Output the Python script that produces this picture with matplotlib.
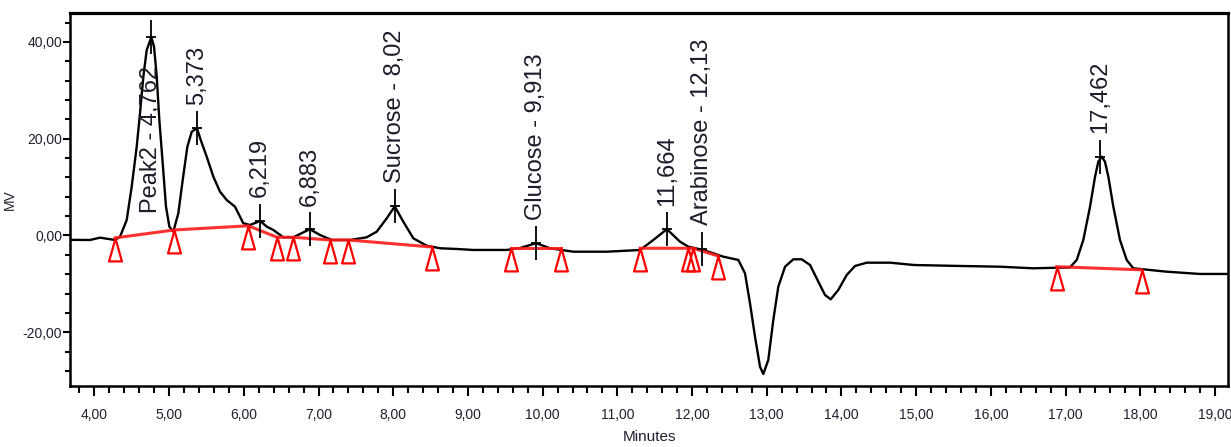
import matplotlib
matplotlib.use("Agg")
import matplotlib.pyplot as plt
from matplotlib.path import Path
from matplotlib.ticker import MultipleLocator, FuncFormatter

# chromatogram trace (minutes, mV)
trace_t = [3.67, 3.94, 4.075, 4.276, 4.343, 4.432, 4.499, 4.566, 4.610, 4.655,
           4.700, 4.762, 4.798, 4.834, 4.869, 4.914, 4.958, 5.003, 5.056, 5.123,
           5.182, 5.244, 5.303, 5.373, 5.423, 5.503, 5.592, 5.681, 5.771, 5.882,
           5.993, 6.083, 6.219, 6.307, 6.395, 6.529, 6.663, 6.883, 7.020, 7.177,
           7.422, 7.645, 7.779, 7.913, 8.02, 8.135, 8.269, 8.448, 8.627, 8.850,
           9.072, 9.519, 9.70, 9.913, 10.099, 10.411, 10.858, 11.304, 11.482, 11.664,
           11.839, 11.950, 12.151, 12.419, 12.620, 12.709, 12.776, 12.843, 12.910, 12.954,
           13.021, 13.088, 13.155, 13.245, 13.356, 13.468, 13.580, 13.691, 13.780, 13.857,
           13.958, 14.071, 14.182, 14.339, 14.651, 14.972, 15.59, 16.123, 16.565, 17.058,
           17.150, 17.238, 17.328, 17.395, 17.439, 17.484, 17.528, 17.573, 17.640, 17.729,
           17.819, 17.907, 18.354, 18.80, 19.175]
trace_v = [-0.9, -0.93, -0.45, -0.93, -0.25, 3.20, 10.08, 18.35, 25.25, 32.81,
           38.33, 41.0, 39.0, 32.81, 23.86, 14.92, 5.95, 1.82, 0.79, 4.59,
           11.47, 18.35, 21.45, 22.15, 19.73, 16.28, 12.15, 9.05, 7.33, 5.95,
           2.52, 2.17, 3.0, 1.82, 1.14, -0.37, -0.37, 1.3, 0.10, -0.93,
           -0.93, -0.37, 0.79, 3.55, 6.0, 2.85, -0.58, -2.11, -2.64, -2.79,
           -2.99, -2.99, -2.58, -1.6, -2.64, -3.35, -3.35, -3.00, -0.93, 1.3,
           -1.28, -2.31, -3.00, -4.38, -5.06, -7.81, -14.01, -20.91, -27.11, -28.62,
           -25.72, -17.46, -10.58, -6.45, -4.92, -4.92, -6.10, -9.55, -12.29, -13.18,
           -11.26, -8.16, -6.30, -5.62, -5.62, -6.10, -6.30, -6.45, -6.78, -6.6,
           -5.06, -0.93, 5.95, 12.15, 15.25, 16.28, 15.25, 12.15, 5.95, -0.93,
           -5.06, -6.78, -7.48, -7.95, -7.95]

# labelled peaks
peak_t = [4.762, 5.373, 6.219, 6.883, 8.02, 9.913, 11.664, 12.13, 17.462]
peak_v = [41.0, 22.15, 3.0, 1.3, 6.0, -1.6, 1.3, -2.8, 16.3]
peak_labels = ["Peak2 - 4,762", "5,373", "6,219", "6,883", "Sucrose - 8,02",
               "Glucose - 9,913", "11,664", "Arabinose - 12,13", "17,462"]

# integration baselines (red), each group drawn as one line
base_groups_t = [[4.276, 5.07, 6.06, 6.445, 6.663, 7.154, 7.399, 8.515],
                 [9.577, 10.24],
                 [11.304, 11.95, 12.017, 12.35],
                 [16.882, 18.02]]
base_groups_v = [[-0.5, 1.14, 2.0, -0.37, -0.37, -0.93, -0.93, -2.38],
                 [-2.64, -2.64],
                 [-2.64, -2.64, -2.64, -4.24],
                 [-6.45, -7.1]]

plt.rcParams['font.family'] = ['Liberation Sans', 'DejaVu Sans']

fig = plt.figure(figsize=(12.31, 4.47), dpi=100)
ax = fig.add_axes([70/1231, 61/447, 1158/1231, 373/447])

ax.plot(trace_t, trace_v, color='black', lw=1.7, zorder=3)

# tall narrow triangle, apex sits on the baseline
tri = Path([(0, 0), (-0.28, -1), (0.28, -1), (0, 0)],
           [Path.MOVETO, Path.LINETO, Path.LINETO, Path.CLOSEPOLY])
for bt, bv in zip(base_groups_t, base_groups_v):
    ax.plot(bt, bv, color='#ff1a1a', lw=2.2, alpha=0.9, zorder=4)
    ax.plot(bt, bv, ls='none', marker=tri, ms=33, mfc='none',
            mec='#ff0000', mew=1.6, zorder=5)

# peak apex crosses
ax.plot(peak_t, peak_v, ls='none', marker='|', ms=24, mew=1.3, color='black', zorder=6)
ax.plot(peak_t, peak_v, ls='none', marker='_', ms=7, mew=1.3, color='black', zorder=6)

for i, (pt, pv, lab) in enumerate(zip(peak_t, peak_v, peak_labels)):
    if i == 0:
        # first label was pushed down by the software so it fits inside the frame
        ax.text(pt, 4.6, lab, rotation=90, ha='center', va='bottom',
                fontsize=17, color='#1c1c2a', zorder=7)
    else:
        ax.annotate(lab, (pt, pv), xytext=(0, 17), textcoords='offset points',
                    rotation=90, ha='center', va='bottom', fontsize=17,
                    color='#1c1c2a', annotation_clip=False, zorder=7)

ax.set_xlim(3.673, 19.175)
ax.set_ylim(-31.1, 45.97)

fmt = FuncFormatter(lambda v, p: f"{v:.2f}".replace('.', ','))
ax.xaxis.set_major_locator(MultipleLocator(1))
ax.xaxis.set_minor_locator(MultipleLocator(0.2))
ax.yaxis.set_major_locator(MultipleLocator(20))
ax.yaxis.set_minor_locator(MultipleLocator(4))
ax.xaxis.set_major_formatter(fmt)
ax.yaxis.set_major_formatter(fmt)

ax.tick_params(axis='x', which='major', direction='out', length=7.5, width=1.5,
               pad=8, labelsize=10, labelcolor='#202030')
ax.tick_params(axis='x', which='minor', direction='out', length=5, width=1.5)
ax.tick_params(axis='y', which='major', direction='out', length=5, width=1.5,
               pad=0.5, labelsize=10, labelcolor='#202030')
ax.tick_params(axis='y', which='minor', direction='out', length=3.5, width=1.5)

for s in ax.spines.values():
    s.set_linewidth(1.8)
ax.spines['top'].set_linewidth(2.3)

ax.set_ylabel("MV", fontsize=10, color='#202030')
ax.yaxis.set_label_coords(-0.046, 0.5)
ax.set_xlabel("Minutes", fontsize=11, color='#202030')
ax.xaxis.set_label_coords(0.5, -0.118)

fig.savefig("out.png", dpi=100)
